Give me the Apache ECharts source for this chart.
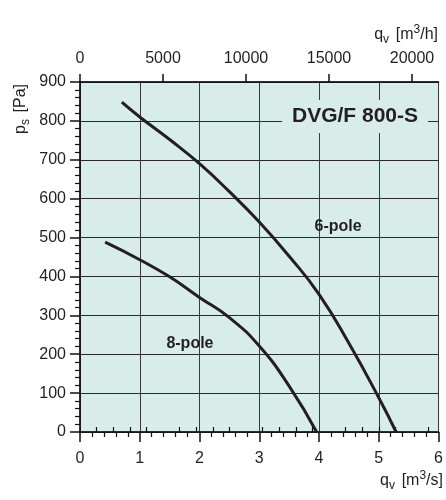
<!DOCTYPE html>
<html>
<head>
<meta charset="utf-8">
<script src="https://cdn.jsdelivr.net/npm/echarts@6/dist/echarts.min.js"></script>
<style>
html,body{margin:0;padding:0;background:#fff;}
#chart{width:446px;height:500px;}
</style>
</head>
<body>
<div id="chart"></div>
<script>
// Data (q_v in m3/s, p_s in Pa)
var curve6pole = [[0.70,848],[1.0,810],[1.5,752],[2.0,690],[2.5,618],[3.0,540],[3.5,452],[4.0,354],[4.5,228],[5.0,88],[5.29,0]];
var curve8pole = [[0.42,488],[1.0,443],[1.5,399],[2.0,346],[2.5,294],[3.0,221],[3.5,118],[3.96,0]];
var curveLabels = [{name:'6-pole', value:[4.32,529]},{name:'8-pole', value:[1.84,228]}];
var topMajorTicks = [0,5000,10000,15000,20000];
var topMinorTicks = [1000,2000,3000,4000,6000,7000,8000,9000,11000,12000,13000,14000,16000,17000,18000,19000,21000];
var chartTitle = 'DVG/F 800-S';

var TXT = '#231f20';
var BG = '#d8ede9';
var FONT = 'Liberation Sans, Arial, sans-serif';

var chart = echarts.init(document.getElementById('chart'));
var nameRich = {
  q: {fontSize: 16, fontFamily: FONT, color: TXT},
  v: {fontSize: 12, fontFamily: FONT, color: TXT, padding: [10,0,0,0]},
  s: {fontSize: 12, fontFamily: FONT, color: TXT, padding: [0,0,10,0]}
};
chart.setOption({
  animation: false,
  textStyle: {fontFamily: FONT},
  title: [{
    text: chartTitle,
    left: 282, top: 100,
    padding: [6,10],
    backgroundColor: BG,
    textStyle: {fontSize: 21, fontWeight: 'bold', color: TXT, lineHeight: 21, fontFamily: FONT}
  }],
  grid: {left: 80, right: 5, top: 82, bottom: 68, show: true, backgroundColor: BG, borderColor: '#222', borderWidth: 1},
  xAxis: [{
    type: 'value', position: 'bottom', min: 0, max: 6, interval: 1,
    axisLine: {show: true, onZero: false, lineStyle: {color: '#111', width: 1.5}},
    axisTick: {show: true, length: 10, lineStyle: {color: '#111', width: 1.5}},
    minorTick: {show: true, splitNumber: 5, length: 5, lineStyle: {color: '#111', width: 1.2}},
    splitLine: {show: true, lineStyle: {color: '#3a3a3a', width: 1}},
    axisLabel: {fontSize: 16, color: TXT, margin: 19}
  },{
    type: 'value', position: 'top', min: 0, max: 21600,
    axisLine: {show: true, onZero: false, lineStyle: {color: '#111', width: 1.5}},
    axisTick: {show: true, length: 8, customValues: topMajorTicks, lineStyle: {color: '#111', width: 1.5}},
    splitLine: {show: false},
    axisLabel: {fontSize: 16, color: TXT, margin: 15, customValues: topMajorTicks, formatter: function (v) { return String(v); }}
  },{
    type: 'value', position: 'top', min: 0, max: 21600,
    axisLine: {show: false},
    axisTick: {show: true, length: 5, customValues: topMinorTicks, lineStyle: {color: '#111', width: 1.2}},
    splitLine: {show: false},
    axisLabel: {show: false}
  }],
  yAxis: [{
    type: 'value', min: 0, max: 900, interval: 100,
    axisLine: {show: true, lineStyle: {color: '#111', width: 1.5}},
    axisTick: {show: true, length: 10, lineStyle: {color: '#111', width: 1.5}},
    minorTick: {show: true, splitNumber: 5, length: 5, lineStyle: {color: '#111', width: 1.2}},
    splitLine: {show: true, lineStyle: {color: '#2a2a2a', width: 1}},
    axisLabel: {fontSize: 16, color: TXT, margin: 14}
  }],
  graphic: [{
    type: 'text', right: 3, top: 470,
    style: {text: '{q|q}{v|v}  {q|[m}{s|3}{q|/s]}', rich: nameRich, fill: TXT}
  },{
    type: 'text', right: 8, top: 24,
    style: {text: '{q|q}{v|v}  {q|[m}{s|3}{q|/h]}', rich: nameRich, fill: TXT}
  },{
    type: 'text', x: 21, y: 109, rotation: Math.PI/2,
    style: {text: '{q|p}{v|s}  {q|[Pa]}', rich: nameRich, fill: TXT, align: 'center', verticalAlign: 'middle'}
  }],
  series: [{
    type: 'line', name: '6-pole', data: curve6pole, smooth: 0.5, symbol: 'none',
    xAxisIndex: 0, yAxisIndex: 0,
    lineStyle: {color: TXT, width: 3}
  },{
    type: 'line', name: '8-pole', data: curve8pole, smooth: 0.5, symbol: 'none',
    xAxisIndex: 0, yAxisIndex: 0,
    lineStyle: {color: TXT, width: 3}
  },{
    type: 'scatter', data: curveLabels, symbolSize: 1, xAxisIndex: 0, yAxisIndex: 0,
    itemStyle: {color: 'rgba(0,0,0,0)', opacity: 1},
    label: {show: true, position: 'inside', formatter: '{b}', fontSize: 16, fontWeight: 'bold', color: TXT, fontFamily: FONT}
  }]
});
</script>
</body>
</html>
